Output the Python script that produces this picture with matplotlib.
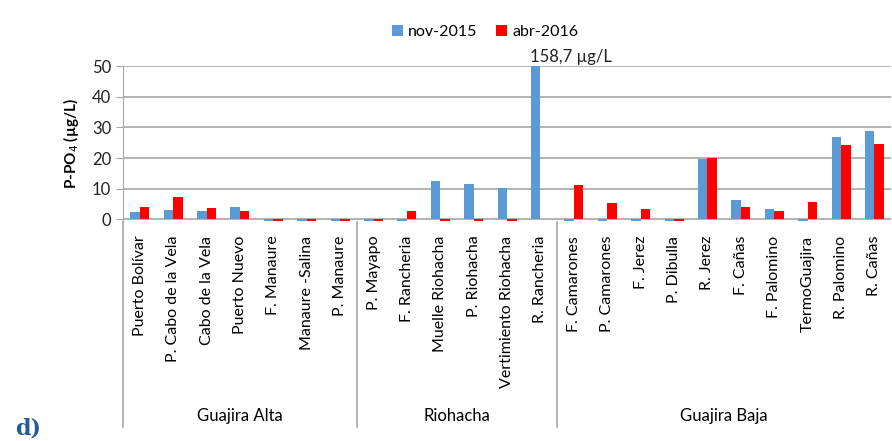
import matplotlib
matplotlib.use("Agg")
import matplotlib.pyplot as plt
import matplotlib.transforms as mtransforms
import numpy as np

plt.rcParams['font.family'] = ['Lato', 'DejaVu Sans']

sites = ["Puerto Bolívar", "P. Cabo de la Vela", "Cabo de la Vela", "Puerto Nuevo",
         "F. Manaure", "Manaure -Salina", "P. Manaure",
         "P. Mayapo", "F. Rancheria", "Muelle Riohacha", "P. Riohacha",
         "Vertimiento Riohacha", "R. Rancheria",
         "F. Camarones", "P. Camarones", "F. Jerez", "P. Dibulla", "R. Jerez",
         "F. Cañas", "F. Palomino", "TermoGuajira", "R. Palomino", "R. Cañas"]
nov_2015 = [2.5, 3.2, 2.6, 3.9, -0.5, -0.5, -0.5,
            -0.5, -0.5, 12.5, 11.6, 10.3, 158.7,
            -0.5, -0.5, -0.5, -0.5, 19.7, 6.4, 3.4, -0.5, 26.8, 28.9]
abr_2016 = [3.9, 7.3, 3.6, 2.6, -0.5, -0.5, -0.5,
            -0.5, 2.6, -0.5, -0.5, -0.5, 0,
            11.1, 5.4, 3.4, -0.5, 19.9, 4.2, 2.6, 5.8, 24.4, 24.6]
groups = ["Guajira Alta", "Riohacha", "Guajira Baja"]
group_sizes = [7, 6, 10]

blue = "#5B9BD5"
red = "#FF0000"
grid_c = "#A6A6A6"

fig = plt.figure(figsize=(8.92, 4.41), dpi=100)
ax = fig.add_axes([0.138, 0.497, 0.861, 0.353])

x = np.arange(len(sites))
w = 0.285
ax.bar(x - w / 2, nov_2015, w, color=blue, label="nov-2015", zorder=3)
ax.bar(x + w / 2, abr_2016, w, color=red, label="abr-2016", zorder=3)

ax.set_xlim(-0.5, len(sites) - 0.5)
ax.set_ylim(-0.8, 50)
ax.set_yticks([0, 10, 20, 30, 40, 50])
ax.yaxis.grid(True, color=grid_c, linewidth=1.2, zorder=0)
for s in ["top", "right", "bottom"]:
    ax.spines[s].set_visible(False)
ax.spines["left"].set_color(grid_c)
ax.tick_params(axis="y", length=5, color=grid_c, labelsize=12, labelcolor="#222222")
ax.set_xticks(x)
ax.set_xticklabels(sites, rotation=90, fontsize=11.5)
ax.tick_params(axis="x", length=0, pad=10)

ax.set_ylabel("P-PO$_4$ (µg/L)", fontsize=11, fontweight="bold", labelpad=8)

# group separators and labels
trans = mtransforms.blended_transform_factory(ax.transData, ax.transAxes)
edges = np.concatenate([[0], np.cumsum(group_sizes)]) - 0.5
for e in edges[:-1]:
    ax.plot([e, e], [0, -1.32], transform=trans, color=grid_c, lw=1.2, clip_on=False)
for g, a, b in zip(groups, edges[:-1], edges[1:]):
    ax.text((a + b) / 2, -1.25, g, transform=trans, ha="center", va="center", fontsize=12)

ax.text(11.7, 50.3, "158,7 µg/L", ha="left", va="bottom", fontsize=12, color="#222222")

fig.legend(loc="center", bbox_to_anchor=(485 / 892, 1 - 32 / 441), ncol=2, frameon=False,
           handlelength=0.7, handleheight=0.7, handletextpad=0.3, columnspacing=1.2, fontsize=11.5)

fig.text(15 / 892, 1 - 428 / 441, "d)", fontsize=16, fontweight="bold", color="#1F5C99",
         family="DejaVu Serif", va="center", ha="left")

fig.savefig("out.png", dpi=100)
